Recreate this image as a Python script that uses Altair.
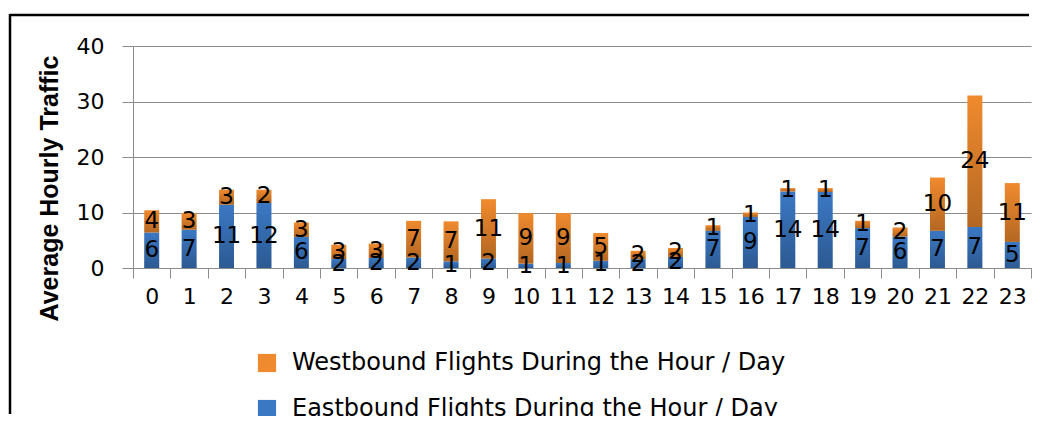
import altair as alt
import pandas as pd

hours = list(range(24))
east = [6.4, 6.9, 11.4, 11.7, 5.6, 1.6, 1.8, 1.9, 1.2, 1.7, 0.8, 0.9,
        1.3, 1.6, 2.0, 6.7, 9.2, 13.8, 13.7, 7.2, 5.7, 6.7, 7.4, 4.7]
west = [4.0, 3.0, 2.7, 2.4, 2.6, 2.6, 2.6, 6.6, 7.2, 10.7, 9.1, 9.0,
        5.0, 1.5, 1.6, 1.0, 0.8, 0.6, 0.7, 1.3, 1.6, 9.6, 23.7, 10.6]
west_name = "Westbound Flights During the Hour / Day"
east_name = "Eastbound Flights During the Hour / Day"
y_ticks = [0, 10, 20, 30, 40]

rows = []
for h, e, w in zip(hours, east, west):
    rows.append({"hour": h, "series": east_name, "ord": 0, "value": e})
    rows.append({"hour": h, "series": west_name, "ord": 1, "value": w})
df = pd.DataFrame(rows)

FONT = "DejaVu Sans"
GRID = "#8c8c8c"

base = alt.Chart(df).transform_stack(
    stack="value", as_=["y0", "y1"], groupby=["hour"],
    sort=[alt.SortField("ord", order="ascending")]
).transform_calculate(mid="(datum.y0 + datum.y1) / 2")

x_enc = alt.X("hour:O", title=None,
              scale=alt.Scale(paddingInner=0, paddingOuter=0),
              axis=alt.Axis(labelAngle=0, labelFontSize=22, labelFont=FONT,
                            labelColor="black", domainColor=GRID, tickColor=GRID,
                            tickSize=10, tickBand="extent", grid=False,
                            labelPadding=8, domainWidth=1.2))
y_scale = alt.Scale(domain=[0, 40])

bars = base.mark_bar(width=alt.RelativeBandSize(0.4)).encode(
    x=x_enc,
    y=alt.Y("y0:Q", scale=y_scale,
            axis=alt.Axis(values=y_ticks, grid=True, gridColor=GRID, gridWidth=1.2,
                          domain=True, domainColor=GRID, tickColor=GRID, tickSize=11,
                          labelPadding=18, labelFontSize=22, labelFont=FONT,
                          labelColor="black",
                          title="Average Hourly Traffic", titleFont="Liberation Sans",
                          titleFontWeight="bold", titleFontSize=25, titleColor="black",
                          titleAngle=270, titleX=-84, titleY=142,
                          titleAlign="center", titleBaseline="middle")),
    y2="y1:Q",
    color=alt.Color("series:N",
                    scale=alt.Scale(domain=[west_name, east_name],
                                    range=["#F08A2E", "#3B78C3"]),
                    legend=alt.Legend(title=None, orient="none", legendX=122, legendY=305,
                                      direction="vertical", symbolType="square",
                                      symbolSize=330, symbolStrokeWidth=0,
                                      labelFontSize=24, labelFont=FONT,
                                      labelColor="black", rowPadding=22,
                                      labelOffset=13, labelLimit=1000)),
)

shade = base.mark_bar(
    width=alt.RelativeBandSize(0.4),
    color=alt.LinearGradient(
        gradient="linear", x1=0, x2=0, y1=0, y2=1,
        stops=[alt.GradientStop(color="rgba(0,0,0,0)", offset=0),
               alt.GradientStop(color="rgba(0,0,0,0.25)", offset=1)]),
).encode(x="hour:O", y="y0:Q", y2="y1:Q", detail="series:N")

labels = base.mark_text(font=FONT, fontSize=23, color="black", baseline="middle").encode(
    x="hour:O", y="mid:Q", text=alt.Text("value:Q", format=".0f"))

frame = alt.Data(values=[{"a": 1}])
top_line = alt.Chart(frame).mark_rule(color="black", strokeWidth=2.5).encode(
    x=alt.value(-123), x2=alt.value(896), y=alt.value(-31))
left_line = alt.Chart(frame).mark_rule(color="black", strokeWidth=2.5).encode(
    x=alt.value(-123), y=alt.value(-32), y2=alt.value(368))

chart = alt.layer(bars, shade, labels, top_line, left_line).properties(
    width=898, height=222,
    padding={"left": 125, "top": 38, "right": 1, "bottom": 148},
    autosize=alt.AutoSizeParams(type="none"),
).configure_view(strokeWidth=0)

chart.save("out.html", embed_options={"renderer": "svg", "actions": False})
